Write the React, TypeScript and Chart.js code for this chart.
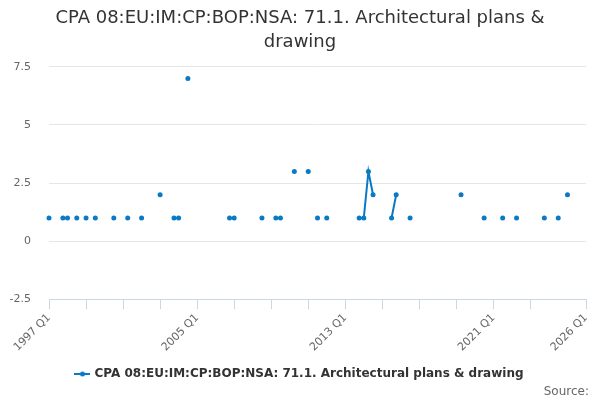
import { useEffect, useRef } from 'react';
import { Chart, registerables } from 'chart.js';

Chart.register(...registerables);

// quarters from 1997 Q1 to 2026 Q1
const years: number[] = [];
for (let y = 1997; y <= 2026; y++) years.push(y);
const quarters: string[] = [];
years.forEach((y) => {
  for (let q = 1; q <= 4; q++) {
    if (y === 2026 && q > 1) break;
    quarters.push(`${y} Q${q}`);
  }
});

// two years per row
const values: (number | null)[] = [
  1, null, null, 1, 1, null, 1, null, // 1997-1998
  1, null, 1, null, null, null, 1, null, // 1999-2000
  null, 1, null, null, 1, null, null, null, // 2001-2002
  2, null, null, 1, 1, null, 7, null, // 2003-2004
  null, null, null, null, null, null, null, 1, // 2005-2006
  1, null, null, null, null, null, 1, null, // 2007-2008
  null, 1, 1, null, null, 3, null, null, // 2009-2010
  3, null, 1, null, 1, null, null, null, // 2011-2012
  null, null, null, 1, 1, 3, 2, null, // 2013-2014
  null, null, 1, 2, null, null, 1, null, // 2015-2016
  null, null, null, null, null, null, null, null, // 2017-2018
  null, 2, null, null, null, null, 1, null, // 2019-2020
  null, null, 1, null, null, 1, null, null, // 2021-2022
  null, null, null, 1, null, null, 1, null, // 2023-2024
  2, null, null, null, null, // 2025-2026 Q1
];

const tickQuarters = ['1997 Q1', '1999 Q1', '2001 Q1', '2003 Q1', '2005 Q1', '2007 Q1', '2009 Q1', '2011 Q1',
  '2013 Q1', '2015 Q1', '2017 Q1', '2019 Q1', '2021 Q1', '2023 Q1', '2026 Q1'];
const labelQuarters = ['1997 Q1', '2005 Q1', '2013 Q1', '2021 Q1', '2026 Q1'];

const seriesName = 'CPA 08:EU:IM:CP:BOP:NSA: 71.1. Architectural plans & drawing';
const FONT = "'DejaVu Sans', Verdana, sans-serif";
const BLUE = '#0a7bc2';

// legend symbol: short line with a dot in the middle
function legendSymbol() {
  const c = document.createElement('canvas');
  c.width = 16;
  c.height = 6;
  const g = c.getContext('2d')!;
  g.strokeStyle = BLUE;
  g.fillStyle = BLUE;
  g.lineWidth = 2;
  g.beginPath();
  g.moveTo(0, 3);
  g.lineTo(16, 3);
  g.stroke();
  g.beginPath();
  g.arc(8, 3, 2.5, 0, Math.PI * 2);
  g.fill();
  return c;
}

export default function App() {
  const canvasRef = useRef<HTMLCanvasElement>(null);
  const chartRef = useRef<any>(null);

  useEffect(() => {
    document.body.style.margin = '0';
    if (!canvasRef.current) return;
    if (chartRef.current) chartRef.current.destroy();

    chartRef.current = new Chart(canvasRef.current, {
      type: 'line',
      data: {
        labels: quarters,
        datasets: [
          {
            label: seriesName,
            data: values,
            borderColor: BLUE,
            backgroundColor: BLUE,
            borderWidth: 2,
            pointRadius: 2.5,
            pointHoverRadius: 3,
            pointBorderWidth: 0,
            spanGaps: false,
          },
        ],
      },
      options: {
        responsive: true,
        maintainAspectRatio: false,
        animation: false,
        layout: { padding: { left: 0, right: 0, bottom: 10 } },
        plugins: {
          title: {
            display: true,
            text: ['CPA 08:EU:IM:CP:BOP:NSA: 71.1. Architectural plans &', 'drawing'],
            color: '#333333',
            font: { family: FONT, size: 18, weight: 'normal', lineHeight: 1.3 },
            padding: { top: 7, bottom: 13 },
          },
          legend: {
            position: 'bottom',
            labels: {
              color: '#333333',
              font: { family: FONT, size: 12, weight: 'bold' },
              usePointStyle: true,
              pointStyle: legendSymbol(),
              padding: 12,
            },
          },
          tooltip: { enabled: false },
        },
        scales: {
          x: {
            grid: {
              drawOnChartArea: false,
              drawTicks: true,
              tickLength: 10,
              color: '#ccd6eb',
            },
            border: { color: '#ccd6eb' },
            afterBuildTicks: (scale: any) => {
              scale.ticks = scale.ticks.filter((t: any) => tickQuarters.includes(quarters[t.value]));
            },
            afterFit: (scale: any) => {
              scale.paddingLeft = 20;
              scale.paddingRight = 14;
            },
            ticks: {
              autoSkip: false,
              maxRotation: 45,
              minRotation: 45,
              color: '#666666',
              font: { family: FONT, size: 11 },
              padding: 2,
              callback: (value: any) => {
                const q = quarters[value as number];
                return labelQuarters.includes(q) ? q : '';
              },
            },
          },
          y: {
            min: -2.5,
            max: 7.5,
            grid: { color: '#e6e6e6', drawTicks: false },
            border: { display: false },
            afterFit: (scale: any) => {
              scale.width = 49;
            },
            ticks: {
              stepSize: 2.5,
              color: '#666666',
              font: { family: FONT, size: 11 },
              padding: 18,
            },
          },
        },
      },
    });

    return () => {
      if (chartRef.current) {
        chartRef.current.destroy();
        chartRef.current = null;
      }
    };
  }, []);

  return (
    <div style={{ position: 'relative', width: 600, height: 400 }}>
      <canvas ref={canvasRef}></canvas>
      <div
        style={{
          position: 'absolute',
          right: 11,
          bottom: 2,
          fontFamily: FONT,
          fontSize: 12,
          color: '#666666',
        }}
      >
        Source:
      </div>
    </div>
  );
}
